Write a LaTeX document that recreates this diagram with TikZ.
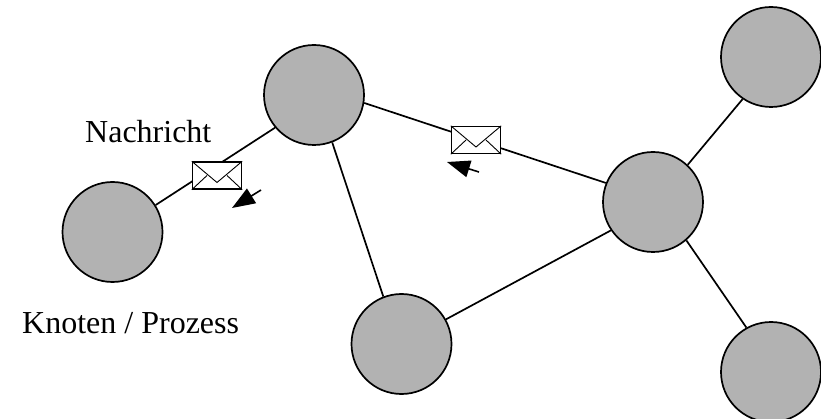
\documentclass[tikz,border=0pt]{standalone}
\usepackage{fontspec}
\setmainfont{Liberation Serif}
\usetikzlibrary{arrows.meta,calc}
\definecolor{nodegray}{HTML}{B2B2B2}
\tikzset{
  knoten/.style={circle,draw=black,fill=nodegray,line width=1.7pt,minimum size=100pt,inner sep=0pt},
  kante/.style={draw=black,line width=1.7pt},
  brief/.style={draw=black,fill=white,line width=1.4pt,minimum width=49pt,minimum height=27pt,inner sep=0pt},
  falte/.style={draw=black,line width=0.9pt},
  pfeil/.style={draw=black,line width=1.6pt,-{Triangle[length=23pt,width=17pt]}},
  beschriftung/.style={font=\fontsize{32pt}{38pt}\selectfont,text=black,inner sep=0pt}
}
\begin{document}
\begin{tikzpicture}[x=1pt,y=-1pt]
\useasboundingbox (0,0) rectangle (821,419);
\clip (0,0) rectangle (821,419);
\node[knoten] (A) at (112.5,232) {};
\node[knoten] (B) at (314,95) {};
\node[knoten] (C) at (653,202) {};
\node[knoten] (D) at (771,57) {};
\node[knoten] (E) at (401.5,344) {};
\node[knoten] (F) at (771,372) {};
\draw[kante] (A.32) -- (B.220);
\draw[kante] (B.-9) -- (C.158);
\draw[kante] (B.-69) -- (E.111);
\draw[kante] (E.29) -- (C.214);
\draw[kante] (C.47) -- (D.236);
\draw[kante] (C.-49) -- (F.119);
\node[brief] (M1) at (217,175.5) {};
\node[brief] (M2) at (476,140) {};
\foreach \m in {M1,M2}{
  \coordinate (\m f) at ($(\m.center)+(0,7)$);
  \draw[falte] (\m.north west) -- (\m f) -- (\m.north east);
  \draw[falte] (\m.south west) -- ($(\m.center)+(-10,0)$);
  \draw[falte] (\m.south east) -- ($(\m.center)+(10,0)$);
}
\coordinate (P1s) at (261,190);
\coordinate (P1e) at (232,208);
\coordinate (P2s) at (479,172);
\coordinate (P2e) at (447,162);
\draw[pfeil] (P1s) -- (P1e);
\draw[pfeil] (P2s) -- (P2e);
\node[beschriftung,anchor=base west] (T1) at (85,143) {Nachricht};
\node[beschriftung,anchor=base west] (T2) at (22,333) {Knoten / Prozess};
\end{tikzpicture}
\end{document}
